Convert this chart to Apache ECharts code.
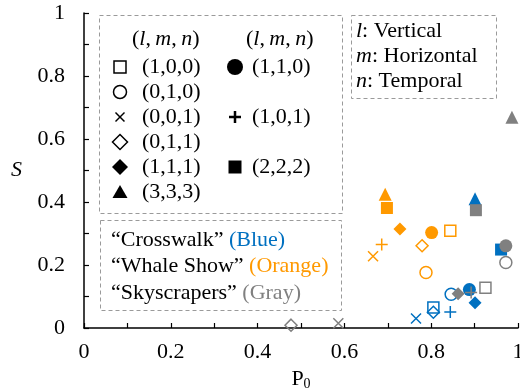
<!DOCTYPE html>
<html>
<head>
<meta charset="utf-8">
<script src="https://cdn.jsdelivr.net/npm/echarts@6/dist/echarts.min.js"></script>
<style>
  html, body { margin: 0; padding: 0; background: #fff; }
  #chart { width: 520px; height: 390px; }
</style>
</head>
<body>
<div id="chart"></div>
<script>
// (l,m,n) combinations, same order in every scene array
const combos = ['(1,0,0)', '(0,1,0)', '(0,0,1)', '(0,1,1)', '(1,1,1)', '(3,3,3)', '(1,1,0)', '(1,0,1)', '(2,2,2)'];
const scenes = ['Crosswalk', 'Whale Show', 'Skyscrapers'];

const crosswalkP0 = [0.805, 0.846, 0.765, 0.805, 0.901, 0.901, 0.888, 0.844, 0.961];
const crosswalkS  = [0.065, 0.107, 0.030, 0.050, 0.080, 0.410, 0.122, 0.051, 0.249];
const whaleP0     = [0.844, 0.788, 0.666, 0.779, 0.728, 0.694, 0.801, 0.686, 0.698];
const whaleS      = [0.309, 0.176, 0.228, 0.261, 0.314, 0.425, 0.303, 0.265, 0.381];
const skyP0       = [0.925, 0.972, 0.586, 0.477, 0.862, 0.986, 0.972, 0.892, 0.903];
const skyS        = [0.128, 0.208, 0.015, 0.009, 0.109, 0.669, 0.261, 0.113, 0.374];

const xTicks = ['0', '0.2', '0.4', '0.6', '0.8', '1'];
const yTicks = ['0', '0.2', '0.4', '0.6', '0.8', '1'];

const sceneColors = ['#0070C0', '#FF9900', '#808080'];
const FONT = 'Liberation Serif';

// marker style per combo: [symbol, size, open?]
const CROSS = 'path://M0,0L10,10M10,0L0,10';
const PLUS = 'path://M5,0L5,10M0,5L10,5';
const markers = [
  ['rect', 11, true],
  ['circle', 12, true],
  [CROSS, 10, true],
  ['diamond', 12, true],
  ['diamond', 13, false],
  ['triangle', 13, false],
  ['circle', 13, false],
  [PLUS, 12, true],
  ['rect', 12, false]
];

function buildSeries(name, xs, ys, color) {
  return {
    name: name,
    type: 'scatter',
    data: xs.map((x, i) => {
      const m = markers[i];
      const style = m[2]
        ? {color: 'rgba(255,255,255,0)', borderColor: color, borderWidth: 1.5, opacity: 1}
        : {color: color, opacity: 1};
      return {value: [x, ys[i]], symbol: m[0], symbolSize: m[1], itemStyle: style};
    }),
    silent: true
  };
}

// legend drawing (decoration only)
const dash = {fill: 'none', stroke: '#9a9a9a', lineWidth: 1, lineDash: [4, 3]};
function legendIcon(kind, cx, cy) {
  const black = '#000';
  switch (kind) {
    case 'osq': return {type: 'rect', shape: {x: cx - 6, y: cy - 6, width: 12, height: 12}, style: {fill: '#fff', stroke: black, lineWidth: 1.5}};
    case 'oci': return {type: 'circle', shape: {cx: cx, cy: cy, r: 6.5}, style: {fill: '#fff', stroke: black, lineWidth: 1.5}};
    case 'x': return {type: 'group', children: [
      {type: 'line', shape: {x1: cx - 4.5, y1: cy - 4.5, x2: cx + 4.5, y2: cy + 4.5}, style: {stroke: black, lineWidth: 1.5}},
      {type: 'line', shape: {x1: cx + 4.5, y1: cy - 4.5, x2: cx - 4.5, y2: cy + 4.5}, style: {stroke: black, lineWidth: 1.5}}]};
    case 'odi': return {type: 'polygon', shape: {points: [[cx, cy - 7.5], [cx + 7.5, cy], [cx, cy + 7.5], [cx - 7.5, cy]]}, style: {fill: '#fff', stroke: black, lineWidth: 1.5}};
    case 'fdi': return {type: 'polygon', shape: {points: [[cx, cy - 8], [cx + 8, cy], [cx, cy + 8], [cx - 8, cy]]}, style: {fill: black}};
    case 'tri': return {type: 'polygon', shape: {points: [[cx, cy - 7], [cx + 7.5, cy + 6], [cx - 7.5, cy + 6]]}, style: {fill: black}};
    case 'fci': return {type: 'circle', shape: {cx: cx, cy: cy, r: 8}, style: {fill: black}};
    case 'plus': return {type: 'group', children: [
      {type: 'line', shape: {x1: cx, y1: cy - 6, x2: cx, y2: cy + 6}, style: {stroke: black, lineWidth: 2.5}},
      {type: 'line', shape: {x1: cx - 6, y1: cy, x2: cx + 6, y2: cy}, style: {stroke: black, lineWidth: 2.5}}]};
    case 'fsq': return {type: 'rect', shape: {x: cx - 6.5, y: cy - 6.5, width: 13, height: 13}, style: {fill: black}};
  }
}
const FS = 22;
function txt(text, x, y, extra) {
  return {type: 'text', style: Object.assign({text: text, x: x, y: y, fontSize: FS, fontFamily: FONT, fill: '#000', verticalAlign: 'middle', align: 'left'}, extra || {})};
}
const itRich = {
  i: {fontStyle: 'italic', fontSize: FS, fontFamily: FONT, fill: '#000'},
  n: {fontSize: FS, fontFamily: FONT, fill: '#000'}
};
const lmn = '{n|(}{i|l}{n|,\u2009}{i|m}{n|,\u2009}{i|n}{n|)}';

const col1 = ['osq', 'oci', 'x', 'odi', 'fdi', 'tri'];
const col2 = {0: ['fci', 6], 2: ['plus', 7], 4: ['fsq', 8]};

const graphics = [
  {type: 'rect', shape: {x: 99.5, y: 15.5, width: 243, height: 198}, style: dash},
  {type: 'rect', shape: {x: 100.5, y: 220.5, width: 241, height: 90}, style: dash},
  {type: 'rect', shape: {x: 351.5, y: 15.5, width: 145, height: 83}, style: dash},
  txt(lmn, 132, 39, {rich: itRich}),
  txt(lmn, 246, 39, {rich: itRich})
];
col1.forEach((k, r) => {
  const y = 67 + 25 * r;
  graphics.push(legendIcon(k, 120, y));
  graphics.push(txt(combos[r], 142, y));
});
Object.keys(col2).forEach(r => {
  const y = 67 + 25 * Number(r);
  graphics.push(legendIcon(col2[r][0], 235, y));
  graphics.push(txt(combos[col2[r][1]], 252, y));
});
graphics.push(txt('{i|l}{n|: Vertical}', 356, 31, {rich: itRich}));
graphics.push(txt('{i|m}{n|: Horizontal}', 356, 56, {rich: itRich}));
graphics.push(txt('{i|n}{n|: Temporal}', 356, 81, {rich: itRich}));
const sceneNames = ['Blue', 'Orange', 'Gray'];
const sceneRich = {
  n: {fontSize: FS, fontFamily: FONT, fill: '#000'},
  c0: {fontSize: FS, fontFamily: FONT, fill: sceneColors[0]},
  c1: {fontSize: FS, fontFamily: FONT, fill: sceneColors[1]},
  c2: {fontSize: FS, fontFamily: FONT, fill: sceneColors[2]}
};
scenes.forEach((s, i) => {
  graphics.push(txt('{n|\u201C' + s + '\u201D }{c' + i + '|(' + sceneNames[i] + ')}', 111, 240 + 26.5 * i, {rich: sceneRich}));
});

function tickFmt(list) {
  return v => {
    const k = Math.round(v * 10);
    return k % 2 === 0 ? list[k / 2] : '';
  };
}

const axisCommon = {
  min: 0, max: 1, interval: 0.1,
  axisLine: {lineStyle: {color: '#000', width: 1.5}},
  axisTick: {inside: true, length: 5, lineStyle: {color: '#000', width: 1.2}},
  splitLine: {show: false},
  axisLabel: {color: '#000', fontFamily: FONT, fontSize: 22}
};

const chart = echarts.init(document.getElementById('chart'));
chart.setOption({
  animation: false,
  backgroundColor: '#fff',
  grid: {left: 84, right: 2, top: 13, bottom: 62, outerBoundsMode: 'none'},
  xAxis: Object.assign({}, axisCommon, {
    type: 'value',
    axisLabel: Object.assign({}, axisCommon.axisLabel, {margin: 13, formatter: tickFmt(xTicks)}),
    name: '{a|P}{b|0}',
    nameLocation: 'middle',
    nameGap: 38,
    nameTextStyle: {rich: {a: {fontFamily: FONT, fontSize: 22, color: '#000'}, b: {fontFamily: FONT, fontSize: 14, color: '#000', verticalAlign: 'bottom', padding: [10, 0, 0, 0]}}}
  }),
  yAxis: Object.assign({}, axisCommon, {
    type: 'value',
    axisLabel: Object.assign({}, axisCommon.axisLabel, {margin: 19, formatter: tickFmt(yTicks)}),
    name: 'S',
    nameLocation: 'middle',
    nameRotate: 0,
    nameGap: 62,
    nameTextStyle: {fontFamily: FONT, fontSize: 22, fontStyle: 'italic', color: '#000'}
  }),
  series: [
    buildSeries(scenes[0], crosswalkP0, crosswalkS, sceneColors[0]),
    buildSeries(scenes[1], whaleP0, whaleS, sceneColors[1]),
    buildSeries(scenes[2], skyP0, skyS, sceneColors[2])
  ],
  graphic: graphics
});
</script>
</body>
</html>
